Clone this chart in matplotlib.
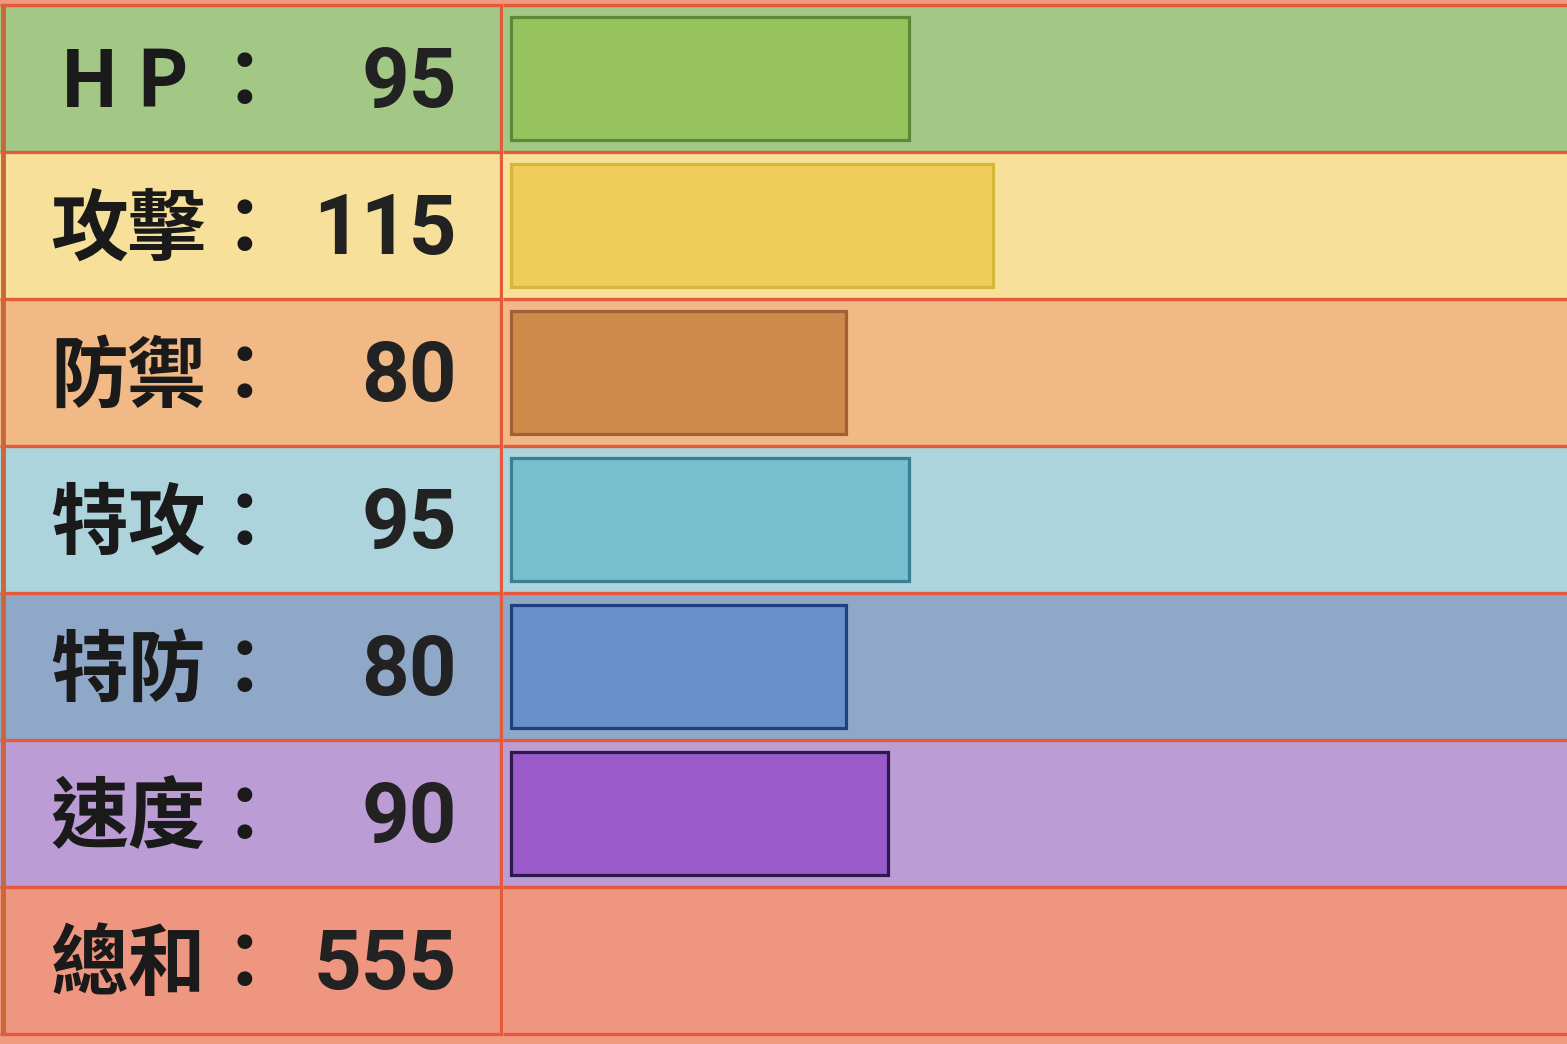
import matplotlib.pyplot as plt
from matplotlib.patches import Rectangle

# stats
stat_names = ["H P", "攻擊", "防禦", "特攻", "特防", "速度", "總和"]
stat_values = [95, 115, 80, 95, 80, 90, 555]
row_colors = ["#A3C785", "#F7E09A", "#F0B985", "#ADD4DC", "#90A8C8", "#BC9CD5", "#EF9680"]
bar_colors = ["#97C35F", "#F0CC5A", "#CE8A48", "#76C0CE", "#6790C8", "#9A5ACA"]
edge_colors = ["#5A8A38", "#D5B83A", "#A0603A", "#3A7F93", "#1E3F80", "#2C1A4C"]
line_color = "#E55A3A"

W, H = 1567, 1044
fig = plt.figure(figsize=(W / 100, H / 100), dpi=100)
fig.patch.set_facecolor("#F09A80")

n = len(stat_names)
ylim = (7.068, -0.034)
cjk = ["Noto Sans CJK TC", "DejaVu Sans"]

# left label column
axl = fig.add_axes([0, 0, 503 / W, 1])
axl.set_xlim(0, 503)
axl.set_ylim(*ylim)
axl.axis("off")

# right bar column
axr = fig.add_axes([503 / W, 0, (W - 503) / W, 1])
axr.set_xlim(-1.91, 252.0)
axr.set_ylim(*ylim)
axr.axis("off")

for i in range(n):
    for ax in (axl, axr):
        ax.axhspan(i, i + 1, color=row_colors[i], zorder=0)
    name = stat_names[i]
    x0 = 60 if name == "H P" else 50
    axl.text(x0, i + 0.54, name, fontsize=56, fontweight="bold", family=cjk,
             ha="left", va="center", color="#1A1A1A")
    axl.text(244, i + 0.54, "：", fontsize=56, fontweight="bold", family=cjk,
             ha="center", va="center", color="#1A1A1A")
    axl.text(457, i + 0.54, str(stat_values[i]), fontsize=60, fontweight="bold",
             family=["Roboto", "DejaVu Sans"], ha="right", va="center", color="#222222")

# bars for the six stats (not the total)
for i in range(6):
    axr.add_patch(Rectangle((0, i + 0.082), stat_values[i], 0.836,
                            facecolor=bar_colors[i], edgecolor=edge_colors[i],
                            linewidth=2.3, zorder=2))

# grid lines
for ax in (axl, axr):
    ax.hlines(range(n + 1), *ax.get_xlim(), color=line_color, linewidth=2.4, zorder=3)
axl.vlines(2.5, 0, n, color="#C8683A", linewidth=3.5, zorder=3)
axl.vlines(501, 0, n, color=line_color, linewidth=2.4, zorder=3)

plt.savefig("out.png", dpi=100, facecolor=fig.get_facecolor())
plt.close()
